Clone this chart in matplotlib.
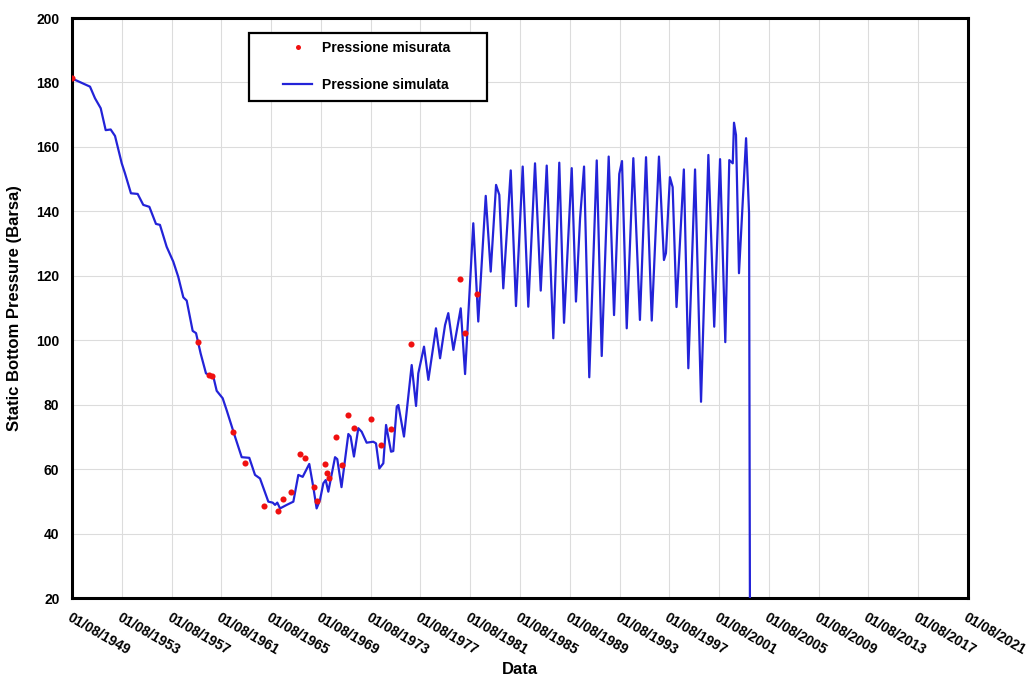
import matplotlib
matplotlib.use("Agg")
import matplotlib.pyplot as plt
from matplotlib.lines import Line2D
from matplotlib.patches import Rectangle

plt.rcParams['font.family'] = ['Liberation Sans', 'DejaVu Sans']
plt.rcParams['font.weight'] = 'bold'

# Simulated pressure (decimal year, bar)
sim_t = [1949.60, 1951.03, 1951.43, 1951.89, 1952.29, 1952.69, 1953.04, 1953.58, 1953.84,
         1954.32, 1954.86, 1955.31, 1955.80, 1956.33, 1956.65, 1957.19, 1957.72, 1958.12,
         1958.53, 1958.80, 1959.28, 1959.55, 1959.92, 1960.35, 1960.94, 1961.21, 1961.69,
         1962.01, 1962.68, 1963.22, 1963.83, 1964.29, 1964.69, 1965.17, 1965.36, 1965.71,
         1965.90, 1966.08, 1966.30, 1966.84, 1967.37, 1967.77, 1968.12, 1968.65, 1968.97,
         1969.24, 1969.51, 1969.78, 1969.97, 1970.18, 1970.72, 1970.90, 1971.24, 1971.79,
         1971.97, 1972.24, 1972.59, 1972.86, 1973.26, 1973.79, 1974.01, 1974.28, 1974.60,
         1974.82, 1975.22, 1975.40, 1975.68, 1975.81, 1976.26, 1976.61, 1976.88, 1977.23,
         1977.41, 1977.87, 1978.22, 1978.83, 1979.16, 1979.56, 1979.82, 1980.23, 1980.82,
         1981.17, 1981.83, 1982.23, 1982.51, 1982.83, 1983.23, 1983.66, 1983.92, 1984.24,
         1984.84, 1985.26, 1985.80, 1986.25, 1986.79, 1987.25, 1987.73, 1988.26, 1988.74,
         1989.12, 1989.74, 1990.08, 1990.41, 1990.73, 1991.15, 1991.75, 1992.15, 1992.71,
         1993.14, 1993.56, 1993.78, 1994.16, 1994.69, 1995.22, 1995.71, 1996.17, 1996.75,
         1997.15, 1997.31, 1997.63, 1997.85, 1998.16, 1998.75, 1999.11, 1999.65, 2000.13,
         2000.72, 2001.19, 2001.66, 2002.08, 2002.40, 2002.68, 2002.78, 2002.94, 2003.18,
         2003.75, 2003.99, 2004.07]
sim_p = [181.2, 178.7, 175.1, 172.0, 165.2, 165.4, 163.4, 154.9, 151.8,
         145.6, 145.4, 142.0, 141.4, 136.1, 135.8, 129.0, 124.4, 119.7,
         113.3, 112.3, 102.9, 102.2, 95.9, 89.7, 88.7, 84.3, 82.0,
         78.3, 70.1, 63.7, 63.5, 58.2, 57.1, 52.0, 49.9, 49.6,
         48.9, 49.6, 47.8, 48.9, 49.9, 58.2, 57.6, 61.6, 54.5,
         47.8, 50.4, 55.6, 56.6, 53.0, 63.7, 63.1, 54.4, 70.9,
         70.1, 63.9, 72.7, 71.6, 68.2, 68.5, 68.0, 60.2, 61.8,
         73.7, 65.4, 65.6, 79.4, 79.9, 70.1, 82.5, 92.3, 79.6,
         89.7, 98.0, 87.7, 103.7, 94.4, 104.7, 108.4, 97.0, 109.9,
         89.5, 136.3, 105.8, 123.9, 144.8, 121.3, 148.2, 145.1, 116.1,
         152.7, 110.6, 153.9, 110.4, 154.9, 115.4, 154.2, 100.6, 155.1,
         105.4, 153.4, 112.0, 137.8, 153.9, 88.5, 155.8, 95.1, 157.0,
         107.8, 151.6, 155.6, 103.7, 156.5, 106.3, 156.8, 106.1, 157.0,
         124.9, 127.0, 150.6, 147.5, 110.3, 153.0, 91.3, 153.0, 80.9,
         157.5, 104.2, 156.2, 99.4, 155.9, 154.9, 167.5, 163.7, 120.8,
         162.7, 139.4, 0.0]

# Measured pressure
meas_t = [1949.58, 1959.68, 1960.62, 1960.83, 1962.55, 1963.49, 1965.01, 1966.14, 1966.51,
          1967.18, 1967.90, 1968.33, 1969.05, 1969.24, 1969.94, 1970.05, 1970.21, 1970.80,
          1971.26, 1971.79, 1972.27, 1973.61, 1974.39, 1975.19, 1976.83, 1980.76, 1981.14,
          1982.15]
meas_p = [181.4, 99.4, 89.2, 89.0, 71.4, 62.0, 48.6, 47.0, 50.6,
          52.9, 64.6, 63.5, 54.4, 50.1, 61.6, 58.7, 57.2, 69.9,
          61.2, 76.9, 72.7, 75.6, 67.4, 72.4, 98.7, 119.0, 102.3,
          114.4]

tick_years = list(range(1949, 2022, 4))
tick_labels = ["01/08/%d" % y for y in tick_years]
y_ticks = list(range(20, 201, 20))

fig = plt.figure(figsize=(10.35, 6.78), dpi=100)
ax = fig.add_axes([72/1035, 80/678, 896/1035, 580/678])

line_color = '#2323d8'
ax.plot(sim_t, sim_p, color=line_color, lw=1.6, zorder=3, solid_joinstyle='round',
        label='Pressione simulata')
ax.plot(meas_t, meas_p, linestyle='none', marker='o', ms=4.4, color='#f01010',
        markeredgewidth=0, zorder=4, label='Pressione misurata')

ticks_x = [y + 7/12 for y in tick_years]
ax.set_xlim(ticks_x[0], ticks_x[-1])
ax.set_ylim(20, 200)
ax.set_xticks(ticks_x)
ax.set_xticklabels(tick_labels, rotation=-30, ha='left', va='top',
                   rotation_mode='anchor', fontsize=10, fontweight='bold')
ax.set_yticks(y_ticks)
ax.set_yticklabels([str(v) for v in y_ticks], fontsize=10, fontweight='bold')
ax.tick_params(axis='both', length=0, pad=9)
ax.tick_params(axis='x', pad=9)
ax.grid(True, color='#dcdcdc', lw=0.8, zorder=0)
ax.set_axisbelow(True)
for s in ax.spines.values():
    s.set_linewidth(2.2)
    s.set_color('black')

ax.set_ylabel('Static Bottom Pressure (Barsa)', fontsize=12, fontweight='bold', labelpad=10)
fig.text(520/1035, 9/678, 'Data', ha='center', va='center', fontsize=12, fontweight='bold')

# legend frame
frame = Rectangle((177/896, 497/580), 238/896, 68/580, transform=ax.transAxes,
                  facecolor='white', edgecolor='black', lw=1.6, zorder=5)
ax.add_patch(frame)

handles = [Line2D([], [], linestyle='none', marker='o', ms=3.6, color='#f01010', markeredgewidth=0),
           Line2D([], [], color=line_color, lw=1.6)]
leg = ax.legend(handles, ['Pressione misurata', 'Pressione simulata'],
                loc='upper left', bbox_to_anchor=(211/896, 557/580),
                frameon=False, fontsize=10, labelspacing=1.65,
                handlelength=2.1, handletextpad=0.72, borderpad=0, borderaxespad=0)
leg.set_zorder(6)
for t in leg.get_texts():
    t.set_fontweight('bold')

fig.savefig('out.png', dpi=100)
